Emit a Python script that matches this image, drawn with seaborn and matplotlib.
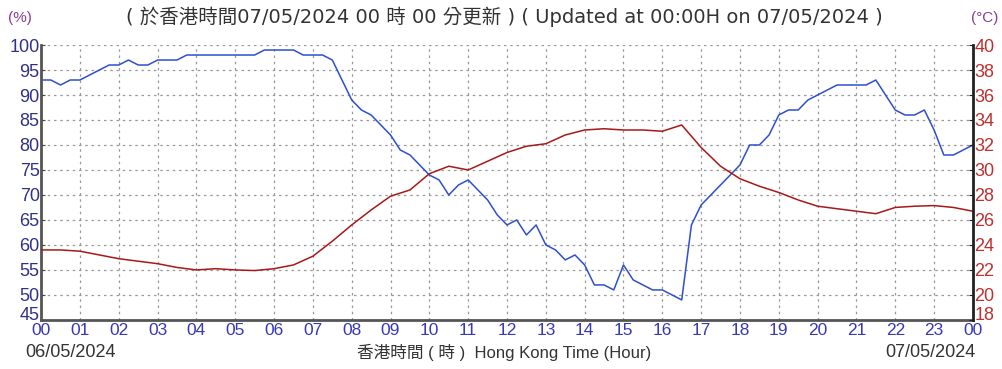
import numpy as np
import pandas as pd
import matplotlib
matplotlib.use("Agg")
import matplotlib.pyplot as plt
import seaborn as sns

# relative humidity (%) every 15 minutes, 00:00 06/05 -> 00:00 07/05
rh_hours = [i * 0.25 for i in range(97)]
rh_values = [
    93, 93, 92, 93, 93, 94, 95, 96, 96, 97, 96, 96,
    97, 97, 97, 98, 98, 98, 98, 98, 98, 98, 98, 99,
    99, 99, 99, 98, 98, 98, 97, 93, 89, 87, 86, 84,
    82, 79, 78, 76, 74, 73, 70, 72, 73, 71, 69, 66,
    64, 65, 62, 64, 60, 59, 57, 58, 56, 52, 52, 51,
    56, 53, 52, 51, 51, 50, 49, 64, 68, 70, 72, 74,
    76, 80, 80, 82, 86, 87, 87, 89, 90, 91, 92, 92,
    92, 92, 93, 90, 87, 86, 86, 87, 83, 78, 78, 79,
    80,
]

# air temperature (degC) every 30 minutes
t_hours = [i * 0.5 for i in range(49)]
t_values = [
    23.6, 23.6, 23.5, 23.2, 22.9, 22.7, 22.5, 22.2, 22.0, 22.1,
    22.0, 21.95, 22.1, 22.4, 23.1, 24.3, 25.6, 26.8, 27.9, 28.4,
    29.7, 30.3, 30.0, 30.7, 31.4, 31.9, 32.1, 32.8, 33.2, 33.3,
    33.2, 33.2, 33.1, 33.6, 31.8, 30.3, 29.3, 28.7, 28.2, 27.6,
    27.1, 26.9, 26.7, 26.5, 27.0, 27.1, 27.15, 27.0, 26.7,
]

hour_labels = [f"{h:02d}" for h in range(24)] + ["00"]
rh_ticks = list(range(45, 101, 5))
t_ticks = list(range(18, 41, 2))

title = "( 於香港時間07/05/2024 00 時 00 分更新 ) ( Updated at 00:00H on 07/05/2024 )"
xlab = "香港時間 ( 時 )  Hong Kong Time (Hour)"

sns.set_style("white")
plt.rcParams["font.family"] = ["Liberation Sans", "Noto Sans CJK TC", "DejaVu Sans"]

rh = pd.DataFrame({"hour": rh_hours, "rh": rh_values})
tt = pd.DataFrame({"hour": t_hours, "temp": t_values})

fig = plt.figure(figsize=(10.03, 3.69), dpi=100)
ax = fig.add_axes([0.041, 0.133, 0.929, 0.745])
ax2 = ax.twinx()

sns.lineplot(data=rh, x="hour", y="rh", ax=ax, color="#2d4fd0", lw=1.1)
sns.lineplot(data=tt, x="hour", y="temp", ax=ax2, color="#a81818", lw=1.1)

ax.set_xlim(0, 24)
ax.set_ylim(45, 100)
ax2.set_ylim(18, 40)
ax.set_xticks(range(25))
ax.set_xticklabels(hour_labels, color="#3838b8", fontsize=12.5)
ax.set_xticks(np.arange(0.5, 24, 0.5), minor=True)
ax.set_yticks(rh_ticks)
ax.set_yticklabels([str(v) for v in rh_ticks], color="#30308a", fontsize=13)
ax2.set_yticks(t_ticks)
ax2.set_yticklabels([str(v) for v in t_ticks], color="#c03030", fontsize=13)
# bottom labels of both y axes sit just above the corner, as in the original
ax.get_yticklabels()[0].set_va("baseline")
ax2.get_yticklabels()[0].set_va("baseline")

ax.grid(True, color="#999999", ls=(0, (2, 3)), lw=0.9)
ax.tick_params(axis="x", which="both", direction="in", length=3, pad=2, color="#444444")
ax.tick_params(axis="y", direction="in", length=3, pad=1, color="#444444")
ax2.tick_params(axis="y", direction="in", length=3, pad=1, color="#222222")
ax.set_xlabel("")
ax.set_ylabel("")
ax2.set_ylabel("")

for a in (ax, ax2):
    a.spines["top"].set_visible(False)
ax.spines["left"].set_color("#555555")
ax.spines["left"].set_linewidth(2)
ax.spines["bottom"].set_color("#555555")
ax.spines["bottom"].set_linewidth(2)
ax2.spines["right"].set_color("#222222")
ax2.spines["right"].set_linewidth(2)
ax2.spines["left"].set_visible(False)
ax2.spines["bottom"].set_visible(False)

fig.text(0.503, 0.955, title, ha="center", va="center", fontsize=14, color="#333333",
         family=["DejaVu Sans", "Noto Sans CJK TC"])
fig.text(0.02, 0.952, "(%)", ha="center", va="center", fontsize=11, color="#8a3c9a")
fig.text(0.982, 0.952, "(°C)", ha="center", va="center", fontsize=11, color="#8a3c9a")
fig.text(0.503, 0.045, xlab, ha="center", va="center", fontsize=12, color="#333333")
fig.text(0.025, 0.045, "06/05/2024", ha="left", va="center", fontsize=13, color="#333333")
fig.text(0.973, 0.045, "07/05/2024", ha="right", va="center", fontsize=13, color="#333333")

fig.savefig("out.png", dpi=100)
